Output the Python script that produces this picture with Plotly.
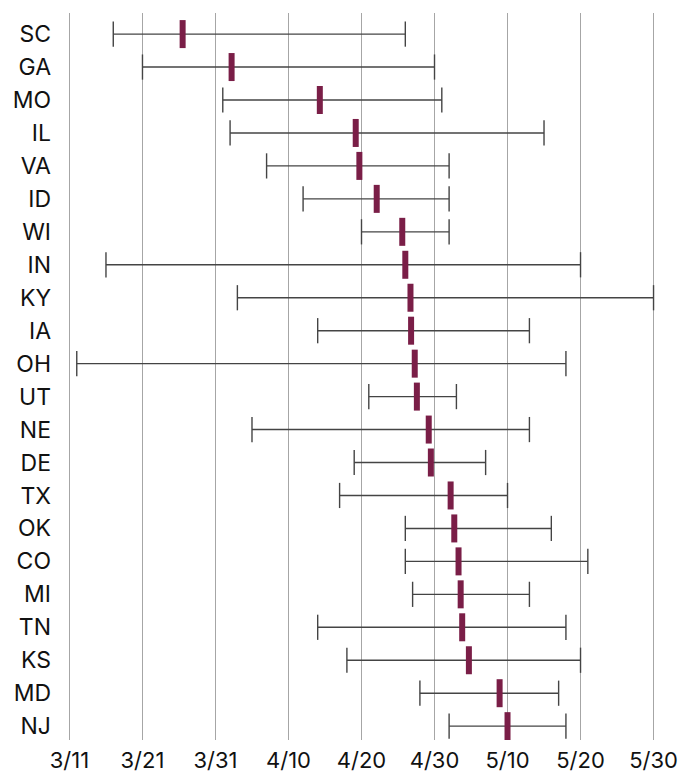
import plotly.graph_objects as go

states = ["SC", "GA", "MO", "IL", "VA", "ID", "WI", "IN", "KY", "IA", "OH",
          "UT", "NE", "DE", "TX", "OK", "CO", "MI", "TN", "KS", "MD", "NJ"]

low = ["2020-03-17", "2020-03-21", "2020-04-01", "2020-04-02", "2020-04-07",
       "2020-04-12", "2020-04-20", "2020-03-16", "2020-04-03", "2020-04-14",
       "2020-03-12", "2020-04-21", "2020-04-05", "2020-04-19", "2020-04-17",
       "2020-04-26", "2020-04-26", "2020-04-27", "2020-04-14", "2020-04-18",
       "2020-04-28", "2020-05-02"]

high = ["2020-04-26", "2020-04-30", "2020-05-01", "2020-05-15", "2020-05-02",
        "2020-05-02", "2020-05-02", "2020-05-20", "2020-05-30", "2020-05-13",
        "2020-05-18", "2020-05-03", "2020-05-13", "2020-05-07", "2020-05-10",
        "2020-05-16", "2020-05-21", "2020-05-13", "2020-05-18", "2020-05-20",
        "2020-05-17", "2020-05-18"]

peak = ["2020-03-26 12:00", "2020-04-02 05:00", "2020-04-14 07:00",
        "2020-04-19 05:00", "2020-04-19 17:00", "2020-04-22 02:00",
        "2020-04-25 14:00", "2020-04-26 00:00", "2020-04-26 17:00",
        "2020-04-26 19:00", "2020-04-27 07:00", "2020-04-27 14:00",
        "2020-04-29 05:00", "2020-04-29 12:00", "2020-05-02 05:00",
        "2020-05-02 17:00", "2020-05-03 07:00", "2020-05-03 14:00",
        "2020-05-03 19:00", "2020-05-04 17:00", "2020-05-08 22:00",
        "2020-05-10 00:00"]

tick_vals = ["2020-03-11", "2020-03-21", "2020-03-31", "2020-04-10",
             "2020-04-20", "2020-04-30", "2020-05-10", "2020-05-20",
             "2020-05-30"]
tick_text = ["3/11", "3/21", "3/31", "4/10", "4/20", "4/30", "5/10",
             "5/20", "5/30"]

line_color = "#444444"
peak_color = "#7a1e47"

seg_x, seg_y = [], []
for s, a, b in zip(states, low, high):
    seg_x += [a, b, None]
    seg_y += [s, s, None]

fig = go.Figure()
fig.add_trace(go.Scatter(x=seg_x, y=seg_y, mode="lines",
                         line=dict(color=line_color, width=1.4),
                         hoverinfo="skip", showlegend=False))
fig.add_trace(go.Scatter(x=low + high, y=states + states, mode="markers",
                         marker=dict(symbol="line-ns", size=18,
                                     line=dict(color=line_color, width=1.4)),
                         showlegend=False))
fig.add_trace(go.Scatter(x=peak, y=states, mode="markers",
                         marker=dict(symbol="line-ns", size=20,
                                     line=dict(color=peak_color, width=6)),
                         showlegend=False))

fig.update_layout(
    width=683, height=776,
    margin=dict(l=68, r=28, t=13, b=36),
    paper_bgcolor="white", plot_bgcolor="white",
    font=dict(family="Inter", size=23, color="#111111"),
    xaxis=dict(type="date",
               range=["2020-03-10 19:12", "2020-05-30 04:48"],
               tickmode="array", tickvals=tick_vals, ticktext=tick_text,
               showgrid=True, gridcolor="#a6a6a6", gridwidth=1.2,
               zeroline=False, showline=False, automargin=False,
               ticks="outside", ticklen=1, tickcolor="rgba(0,0,0,0)",
               tickfont=dict(size=22)),
    yaxis=dict(type="category", categoryorder="array", categoryarray=states,
               range=[21.42, -0.64], showgrid=False, zeroline=False,
               showline=False, ticklabelstandoff=16, automargin=False,
               tickfont=dict(size=23)),
)

fig.write_html("out.html",
               config={"displayModeBar": False},
               post_script="document.body.style.margin='0';"
                           "document.body.style.overflow='hidden';")
